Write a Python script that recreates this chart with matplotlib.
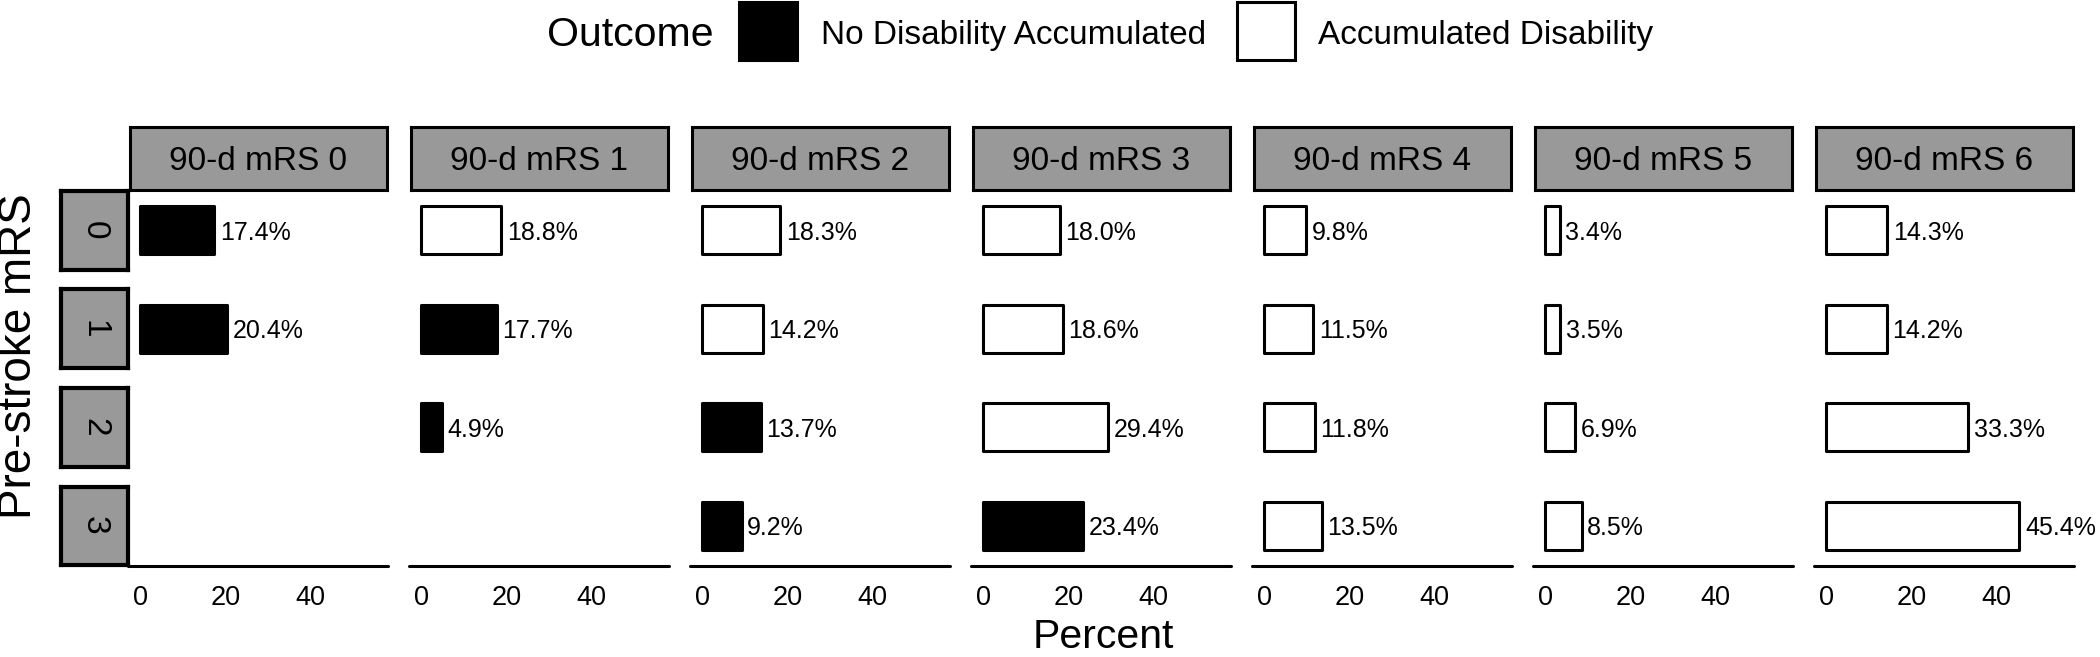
import matplotlib
matplotlib.use('Agg')
import matplotlib.pyplot as plt
from matplotlib.patches import Rectangle

plt.rcParams['font.family'] = ['Liberation Sans', 'DejaVu Sans']

# data: rows = pre-stroke mRS, columns = 90-day mRS
pre_levels = ['0', '1', '2', '3']
post_levels = ['90-d mRS 0', '90-d mRS 1', '90-d mRS 2', '90-d mRS 3',
               '90-d mRS 4', '90-d mRS 5', '90-d mRS 6']
pct_post0 = [17.4, 20.4, None, None]
pct_post1 = [18.8, 17.7, 4.9, None]
pct_post2 = [18.3, 14.2, 13.7, 9.2]
pct_post3 = [18.0, 18.6, 29.4, 23.4]
pct_post4 = [9.8, 11.5, 11.8, 13.5]
pct_post5 = [3.4, 3.5, 6.9, 8.5]
pct_post6 = [14.3, 14.2, 33.3, 45.4]
percents = [pct_post0, pct_post1, pct_post2, pct_post3, pct_post4, pct_post5, pct_post6]
x_ticks = [0, 20, 40]
outcome_labels = ['No Disability Accumulated', 'Accumulated Disability']

W, H = 2100, 657
fig = plt.figure(figsize=(W / 100, H / 100), dpi=100)
strip_gray = '#999999'


def px_axes(x0, y0, w, h):
    return fig.add_axes([x0 / W, 1 - (y0 + h) / H, w / W, h / H])


def fy(y):
    return 1 - y / H


col_left, col_pitch, col_w = 128.3, 281, 260
row_top, row_pitch, row_h = 190, 98.5, 80.5

for c, lab in enumerate(post_levels):
    x0 = col_left + c * col_pitch
    # column strip
    sa = px_axes(x0 + 1.5, 126.5, col_w - 3, 63)
    sa.set_facecolor(strip_gray)
    sa.set_xticks([]); sa.set_yticks([])
    for s in sa.spines.values():
        s.set_linewidth(2.2)
    fig.text((x0 + col_w / 2) / W, fy(170), lab, ha='center', va='baseline', fontsize=24)

    for r in range(len(pre_levels)):
        v = percents[c][r]
        ax = px_axes(x0, row_top + r * row_pitch, col_w, row_h)
        ax.set_xlim(-2.85, 58.3)
        ax.set_ylim(-0.75, 0.75)
        ax.set_yticks([])
        ax.patch.set_alpha(0)
        for s in ['top', 'left', 'right']:
            ax.spines[s].set_visible(False)
        if r == len(pre_levels) - 1:
            ax.spines['bottom'].set_linewidth(2.2)
            ax.spines['bottom'].set_capstyle('round')
            ax.set_xticks(x_ticks)
            ax.tick_params(axis='x', length=0, labelsize=19.5, pad=14)
        else:
            ax.spines['bottom'].set_visible(False)
            ax.set_xticks([])
        if v is None:
            continue
        no_disab = c <= r
        ax.barh(0, v, height=0.9, color='black' if no_disab else 'white',
                edgecolor='black', linewidth=2.2, joinstyle='round')
        ax.annotate(f'{v:.1f}%', (v, 0), xytext=(4, 0), textcoords='offset points',
                    ha='left', va='center_baseline', fontsize=18)

# row strips
for r, lab in enumerate(pre_levels):
    ra = px_axes(61, row_top + r * row_pitch + 1, 67, row_h - 2)
    ra.set_facecolor(strip_gray)
    ra.set_xticks([]); ra.set_yticks([])
    for s in ra.spines.values():
        s.set_linewidth(3.0)
    ra.text(0.5, 0.5, lab, ha='center', va='center', rotation=-90, fontsize=24,
            transform=ra.transAxes)

# axis titles
fig.text(1103 / W, fy(656), 'Percent', ha='center', va='bottom', fontsize=29.5)
fig.text(19 / W, fy(356), 'Pre-stroke mRS', ha='center', va='center',
         rotation=90, fontsize=33)

# legend
fig.text(547 / W, fy(46), 'Outcome', ha='left', va='baseline', fontsize=29.5)
for (kx, tx), lab, fc in zip([(739, 821), (1237, 1318)], outcome_labels, ['black', 'white']):
    fig.patches.append(Rectangle((kx / W, fy(60)), 58 / W, 58 / H, transform=fig.transFigure,
                                 facecolor=fc, edgecolor='black', linewidth=2.2))
    fig.text(tx / W, fy(44), lab, ha='left', va='baseline', fontsize=24)

fig.savefig('out.png', dpi=100, facecolor='white')
